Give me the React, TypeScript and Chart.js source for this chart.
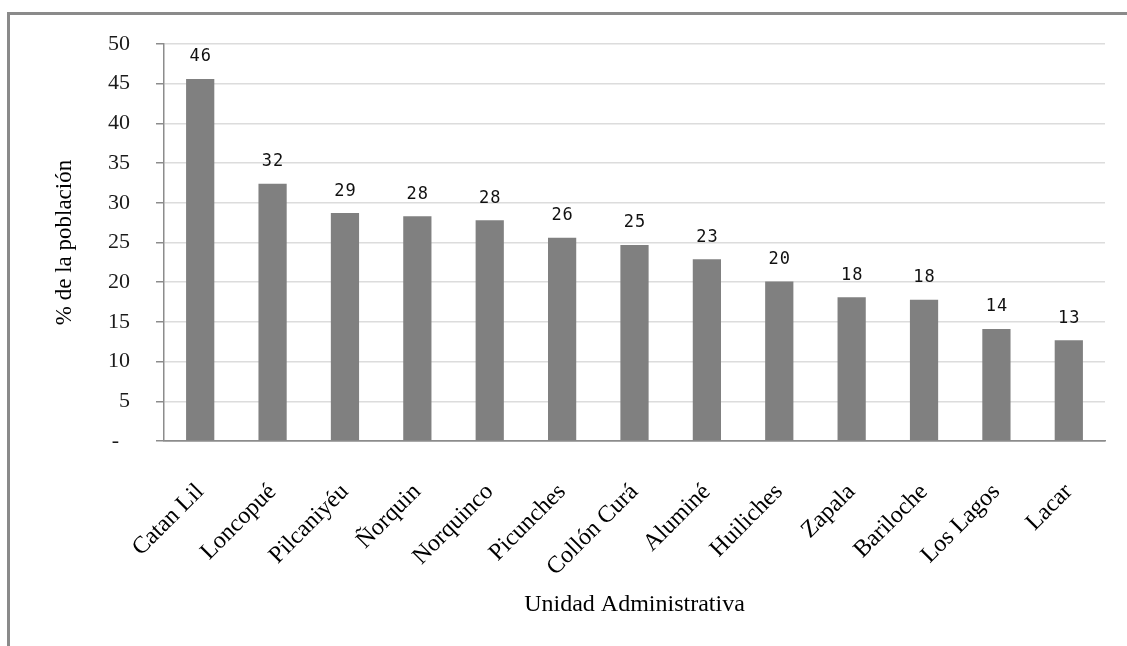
import React, { useEffect, useRef } from 'react';
import { Chart, registerables } from 'chart.js';

Chart.register(...registerables);

const categories = [
  'Catan Lil', 'Loncopué', 'Pilcaniyéu', 'Ñorquin', 'Norquinco', 'Picunches',
  'Collón Curá', 'Aluminé', 'Huiliches', 'Zapala', 'Bariloche', 'Los Lagos', 'Lacar',
];
const values = [45.6, 32.4, 28.7, 28.3, 27.8, 25.6, 24.7, 22.9, 20.1, 18.1, 17.8, 14.1, 12.7];
const yMin = 0;
const yMax = 50;
const yStep = 5;
const xTitle = 'Unidad Administrativa';
const yTitle = '% de la población';

const valueLabels = {
  id: 'valueLabels',
  afterDatasetsDraw(chart: any) {
    const ctx = chart.ctx;
    const meta = chart.getDatasetMeta(0);
    ctx.save();
    ctx.font = '17px "DejaVu Sans Mono"';
    try {
      (ctx as any).letterSpacing = '1px';
    } catch (e) {
      /* ignore */
    }
    ctx.fillStyle = '#111111';
    ctx.textAlign = 'center';
    ctx.textBaseline = 'middle';
    meta.data.forEach((bar: any, i: number) => {
      ctx.fillText(String(Math.round(values[i])), bar.x + 0.5, bar.y - 22);
    });
    ctx.restore();
  },
};

export default function App() {
  const ref = useRef<HTMLCanvasElement | null>(null);

  useEffect(() => {
    if (!ref.current) return;
    const chart = new Chart(ref.current, {
      type: 'bar',
      data: {
        labels: categories,
        datasets: [
          {
            data: values,
            backgroundColor: '#808080',
            borderWidth: 0,
            barPercentage: 0.39,
            categoryPercentage: 1,
          },
        ],
      },
      options: {
        responsive: false,
        animation: false,
        layout: { padding: { left: 0, right: 22, top: 44, bottom: 0 } },
        plugins: {
          legend: { display: false },
          tooltip: { enabled: false },
        },
        scales: {
          x: {
            afterFit: (axis: any) => {
              axis.height = 205;
            },
            grid: { display: false },
            border: { display: true, color: '#8c8c8c', width: 1.5 },
            ticks: {
              autoSkip: false,
              minRotation: 45,
              maxRotation: 45,
              padding: 29,
              color: '#000000',
              font: { family: '"Liberation Serif"', size: 24 },
            },
            title: {
              display: true,
              text: xTitle,
              color: '#000000',
              font: { family: '"Liberation Serif"', size: 24 },
              padding: { top: 0, bottom: 27 },
            },
          },
          y: {
            min: yMin,
            max: yMax,
            afterFit: (axis: any) => {
              axis.width = 164;
            },
            ticks: {
              stepSize: yStep,
              padding: 26,
              color: '#1a1a1a',
              font: { family: '"Liberation Serif"', size: 22 },
              callback: (v: any) => (Number(v) === 0 ? '-\u00A0\u00A0' : String(v)),
            },
            grid: {
              color: (c: any) => (c.tick && c.tick.value === 0 ? '#8c8c8c' : '#dcdcdc'),
              lineWidth: 1.5,
              tickLength: 8,
              tickColor: '#8c8c8c',
            },
            border: { display: true, color: '#8c8c8c', width: 1.5 },
            title: {
              display: true,
              text: yTitle,
              color: '#000000',
              font: { family: '"Liberation Serif"', size: 23 },
              padding: { top: 51, bottom: 0 },
            },
          },
        },
      },
      plugins: [valueLabels],
    });
    return () => chart.destroy();
  }, []);

  return (
    <div style={{ position: 'fixed', left: 0, top: 0, width: 1127, height: 646, overflow: 'hidden', background: '#ffffff' }}>
      <div
        style={{
          position: 'absolute',
          left: 7,
          top: 12,
          width: 2000,
          height: 2000,
          borderTop: '3px solid #8a8a8a',
          borderLeft: '3px solid #8a8a8a',
        }}
      />
      <canvas
        ref={ref}
        width={1127}
        height={646}
        style={{ position: 'absolute', left: 0, top: 0, width: 1127, height: 646 }}
      />
    </div>
  );
}
